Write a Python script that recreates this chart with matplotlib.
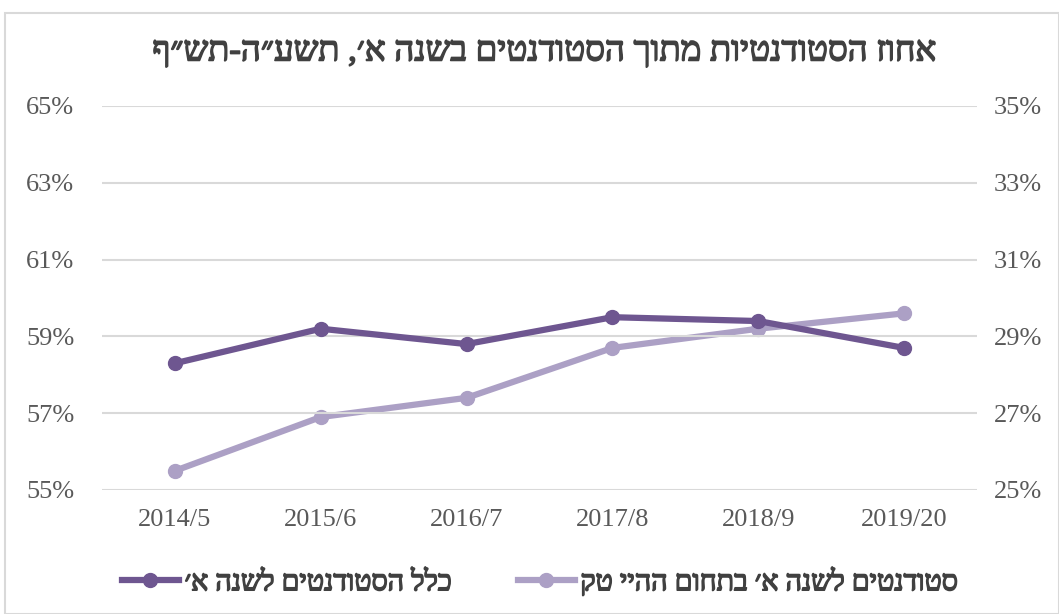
import matplotlib
matplotlib.use("Agg")
import matplotlib.pyplot as plt
import matplotlib.patheffects as pe
from matplotlib.patches import Rectangle

# Data
years = ["2014/5", "2015/6", "2016/7", "2017/8", "2018/9", "2019/20"]
all_students = [58.3, 59.2, 58.8, 59.5, 59.4, 58.7]   # left axis
hitech_students = [25.5, 26.9, 27.4, 28.7, 29.2, 29.6]  # right axis
left_ticks = [55, 57, 59, 61, 63, 65]
right_ticks = [25, 27, 29, 31, 33, 35]

title_he = "אחוז הסטודנטיות מתוך הסטודנטים בשנה א׳, תשע״ה-תש״ף"
label_all = "כלל הסטודנטים לשנה א׳"
label_hitech = "סטודנטים לשנה א׳ בתחום ההיי טק"


def rtl(s):
    # matplotlib has no bidi support, so reverse Hebrew for visual order
    return s[::-1]


DARK = "#6E5690"
LIGHT = "#ACA0C5"
TXT = "#595959"
serif = ["Liberation Serif", "DejaVu Serif"]
heb = ["Liberation Serif", "DejaVu Sans"]
# Hebrew glyphs have no bold face here, so thicken them with a stroke
bold_fx = [pe.withStroke(linewidth=1.1, foreground="#404040")]

fig = plt.figure(figsize=(10.59, 6.14), dpi=100)
fig.patches.append(Rectangle((5 / 1059, 0), 1 - 5 / 1059, 1 - 13 / 614,
                             transform=fig.transFigure, fill=False,
                             edgecolor="#D9D9D9", linewidth=1.5))

ax = fig.add_axes([102 / 1059, 1 - 490 / 614, 875 / 1059, 384 / 614])
ax2 = ax.twinx()

x = list(range(len(years)))
ax.plot(x, all_students, color=DARK, lw=4.5, marker="o", ms=10, zorder=3,
        label=rtl(label_all))
ax2.plot(x, hitech_students, color=LIGHT, lw=4.5, marker="o", ms=10, zorder=3,
         label=rtl(label_hitech))

ax.set_xlim(-0.5, len(years) - 0.5)
ax.set_ylim(55, 65)
ax2.set_ylim(25, 35)
ax.set_yticks(left_ticks)
ax2.set_yticks(right_ticks)
ax.set_yticklabels([f"{v}%" for v in left_ticks])
ax2.set_yticklabels([f"{v}%" for v in right_ticks])
ax.set_xticks(x)
ax.set_xticklabels(years)

ax.grid(axis="y", color="#D9D9D9", lw=1.5)
ax.set_axisbelow(True)
for a in (ax, ax2):
    for sp in a.spines.values():
        sp.set_visible(False)
    a.tick_params(length=0, labelsize=19, labelcolor=TXT)
    for lbl in a.get_xticklabels() + a.get_yticklabels():
        lbl.set_family(serif)
ax.tick_params(axis="y", pad=20)
ax2.tick_params(axis="y", pad=12)
ax.tick_params(axis="x", pad=14)

# put the dark line above the light one like the reference
ax.set_zorder(ax2.get_zorder() + 1)
ax.patch.set_visible(False)

fig.text(0.5 * (102 + 977) / 1059 + 0.005, 1 - 52 / 614, rtl(title_he),
         ha="center", va="center", fontsize=25, color="#404040", family=heb,
         path_effects=bold_fx)

h1, l1 = ax.get_legend_handles_labels()
h2, l2 = ax2.get_legend_handles_labels()
leg = fig.legend(h1 + h2, l1 + l2, loc="center", bbox_to_anchor=(0.51, 1 - 582 / 614),
                 ncol=2, frameon=False, prop={"family": heb, "size": 20.5},
                 labelcolor="#404040", handlelength=2.0, handletextpad=0.2,
                 columnspacing=2.3)
for t in leg.get_texts():
    t.set_path_effects(bold_fx)

fig.savefig("out.png", dpi=100)
